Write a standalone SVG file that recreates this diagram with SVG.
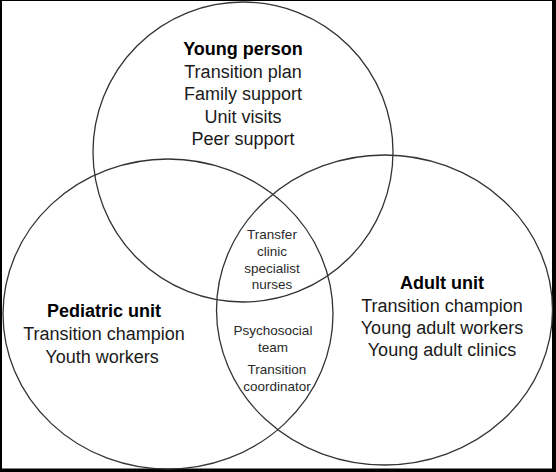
<svg xmlns="http://www.w3.org/2000/svg" width="556" height="472" viewBox="0 0 556 472">
<style>
.ring{fill:none;stroke:#333;stroke-width:1.3}
.t{font-family:"Liberation Sans",Arial,Helvetica,sans-serif;fill:#1a1a1a;text-anchor:middle}
.big{font-size:18px}
.b{font-weight:bold;fill:#000}
.sm{font-size:13.5px;fill:#2a2a2a}
</style>
<rect x="0" y="0" width="556" height="472" fill="#000"/>
<rect x="2" y="1" width="550" height="467.5" fill="#fff"/>
<g id="young-person">
<circle class="ring" cx="243" cy="152" r="150"/>
<text class="t big"><tspan class="b" x="243" y="55">Young person</tspan><tspan x="243" y="77.5">Transition plan</tspan><tspan x="243" y="100">Family support</tspan><tspan x="243" y="122.5">Unit visits</tspan><tspan x="243" y="145">Peer support</tspan></text>
</g>
<g id="pediatric-unit">
<ellipse class="ring" cx="168" cy="314" rx="165" ry="155"/>
<text class="t big"><tspan class="b" x="104" y="317">Pediatric unit</tspan><tspan x="104" y="340">Transition champion</tspan><tspan x="102" y="362.5">Youth workers</tspan></text>
</g>
<g id="adult-unit">
<ellipse class="ring" cx="384.5" cy="310" rx="168" ry="155"/>
<text class="t big"><tspan class="b" x="442" y="288.5">Adult unit</tspan><tspan x="442" y="311.5">Transition champion</tspan><tspan x="442" y="333.5">Young adult workers</tspan><tspan x="442" y="356">Young adult clinics</tspan></text>
</g>
<g id="all-three">
<text class="t sm"><tspan x="272" y="239.3">Transfer</tspan><tspan x="272" y="256">clinic</tspan><tspan x="272" y="272.7">specialist</tspan><tspan x="272" y="289.3">nurses</tspan></text>
</g>
<g id="pediatric-adult">
<text class="t sm"><tspan x="273" y="335">Psychosocial</tspan><tspan x="273" y="351.7">team</tspan></text>
<text class="t sm"><tspan x="277" y="374">Transition</tspan><tspan x="277" y="390.7">coordinator</tspan></text>
</g>
</svg>
